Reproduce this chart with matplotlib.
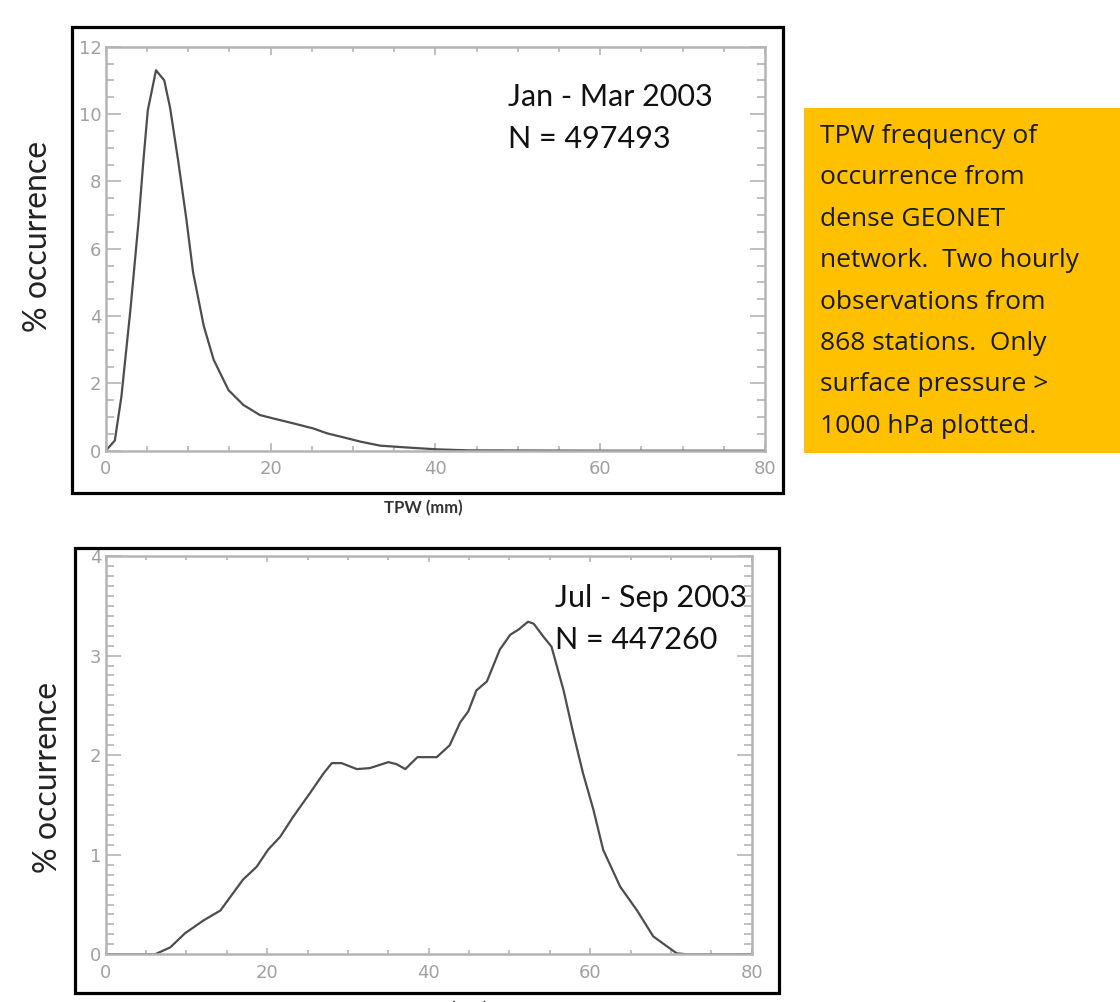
import numpy as np
import matplotlib.pyplot as plt
from matplotlib.patches import Rectangle
from matplotlib.ticker import MultipleLocator

# TPW frequency of occurrence, GEONET

# Jan - Mar 2003
tpw_winter = [0, 1.1, 1.9, 3.0, 4.0, 4.6, 5.1, 6.1, 7.1, 7.8, 8.8, 9.8, 10.6,
              11.9, 13.1, 14.9, 16.7, 18.7, 20.3, 22.8, 25.2, 26.8, 28.8, 30.9,
              33.3, 36.9, 40.2, 44, 60, 80]
occ_winter = [0, 0.3, 1.6, 4.2, 6.85, 8.7, 10.1, 11.3, 11.0, 10.2, 8.6, 6.85, 5.3,
              3.7, 2.7, 1.8, 1.36, 1.06, 0.96, 0.81, 0.66, 0.52, 0.40, 0.27,
              0.15, 0.09, 0.04, 0.01, 0, 0]

# Jul - Sep 2003
tpw_summer = [0, 6.1, 8.0, 9.8, 12.1, 14.2, 17.0, 18.7, 20.1, 21.6, 23.2, 25.3,
              27.0, 28.0, 29.2, 31.1, 32.7, 35.0, 36.0, 37.1, 38.6, 41.0, 42.6,
              43.9, 44.9, 45.9, 47.2, 48.8, 50.1, 51.1, 52.3, 53.0, 54.2, 55.2,
              56.7, 57.9, 59.1, 60.4, 61.6, 63.7, 65.8, 67.8, 69.5, 70.7, 72.0, 80]
occ_summer = [0, 0, 0.07, 0.21, 0.34, 0.44, 0.75, 0.88, 1.05, 1.18, 1.38, 1.62,
              1.82, 1.92, 1.92, 1.86, 1.87, 1.93, 1.91, 1.86, 1.98, 1.98, 2.1,
              2.33, 2.44, 2.65, 2.74, 3.06, 3.21, 3.26, 3.34, 3.32, 3.19, 3.09,
              2.65, 2.22, 1.82, 1.45, 1.05, 0.68, 0.44, 0.18, 0.08, 0.01, 0, 0]

note_lines = ["TPW frequency of", "occurrence from", "dense GEONET",
              "network.  Two hourly", "observations from", "868 stations.  Only",
              "surface pressure >", "1000 hPa plotted."]

axis_grey = '#b4b4b4'
label_grey = '#a0a0a0'
line_col = '#4d4d4d'
txt_font = 'Lato'


def style_axes(ax, ymax, ymajor, yminor, xlen):
    ax.set_xlim(0, 80)
    ax.set_ylim(0, ymax)
    ax.xaxis.set_major_locator(MultipleLocator(20))
    ax.xaxis.set_minor_locator(MultipleLocator(5))
    ax.yaxis.set_major_locator(MultipleLocator(ymajor))
    ax.yaxis.set_minor_locator(MultipleLocator(yminor))
    for s in ax.spines.values():
        s.set_color(axis_grey)
        s.set_linewidth(1.8)
    ax.tick_params(which='both', direction='in', top=True, right=True,
                   color=axis_grey, width=1.2, labelcolor=label_grey,
                   labelsize=13)
    ax.tick_params(axis='y', which='major', length=10.8, pad=3)
    ax.tick_params(axis='y', which='minor', length=5.6)
    ax.tick_params(axis='x', which='major', length=xlen, pad=7)
    ax.tick_params(axis='x', which='minor', length=xlen * 0.6)


fig = plt.figure(figsize=(11.2, 10.02), dpi=100)

# black frames round each plot
fig.patches.append(Rectangle((0.064, 0.508), 0.6348, 0.4654, transform=fig.transFigure,
                             fill=False, edgecolor='black', linewidth=2.3))
fig.patches.append(Rectangle((0.067, 0.009), 0.6286, 0.4438, transform=fig.transFigure,
                             fill=False, edgecolor='black', linewidth=2.3))

# top panel
ax1 = fig.add_axes([0.0944, 0.5502, 0.5886, 0.4032])
ax1.plot(tpw_winter, occ_winter, color=line_col, lw=1.6)
style_axes(ax1, 12, 2, 0.5, 5.8)
ax1.text(0.61, 0.8755, 'Jan - Mar 2003', transform=ax1.transAxes, va='center',
         fontsize=22, family=txt_font, color='#111111')
ax1.text(0.61, 0.771, 'N = 497493', transform=ax1.transAxes, va='center',
         fontsize=22, family=txt_font, color='#111111')
fig.text(0.034, 0.764, '% occurrence', rotation=90, ha='center', va='center',
         fontsize=23, family=txt_font, color='#222222')
fig.text(0.3777, 0.493, 'TPW (mm)', ha='center', va='center', fontsize=12,
         family=txt_font, color='#333333', fontweight='bold')

# bottom panel
ax2 = fig.add_axes([0.0944, 0.0476, 0.5768, 0.3975])
ax2.plot(tpw_summer, occ_summer, color=line_col, lw=1.6)
style_axes(ax2, 4, 1, 0.1, 4.5)
ax2.text(0.6955, 0.8945, 'Jul - Sep 2003', transform=ax2.transAxes, va='center',
         fontsize=22, family=txt_font, color='#111111')
ax2.text(0.6955, 0.789, 'N = 447260', transform=ax2.transAxes, va='center',
         fontsize=22, family=txt_font, color='#111111')
fig.text(0.043, 0.224, '% occurrence', rotation=90, ha='center', va='center',
         fontsize=23, family=txt_font, color='#222222')
# x label of the lower plot is cut off by the page edge in the original
fig.text(0.40, -0.007, 'TPW (mm)', ha='center', va='center', fontsize=12,
         family=txt_font, color='#333333', fontweight='bold')

# orange note box
fig.patches.append(Rectangle((0.7179, 0.5479), 0.2821, 0.344, transform=fig.transFigure,
                             facecolor='#FFC000', edgecolor='none'))
for i, line in enumerate(note_lines):
    ybase = 143 + 41.4 * i
    fig.text(820 / 1120, 1 - ybase / 1002, line, ha='left', va='baseline',
             fontsize=19, family='Open Sans', color='#1a1a1a')

fig.savefig('out.png', dpi=100)
